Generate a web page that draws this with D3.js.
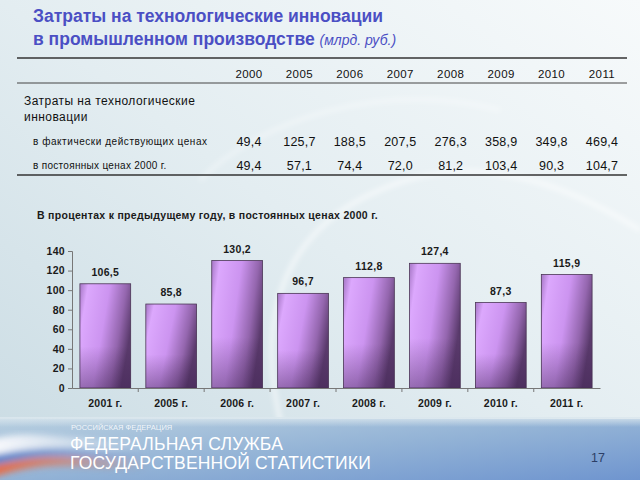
<!DOCTYPE html>
<html><head><meta charset="utf-8">
<script src="https://cdn.jsdelivr.net/npm/d3@7"></script>
<style>html,body{margin:0;padding:0;overflow:hidden;background:#fff}</style>
</head><body>
<script>
const years = ["2000","2005","2006","2007","2008","2009","2010","2011"];
const rowActual = [49.4,125.7,188.5,207.5,276.3,358.9,349.8,469.4];
const rowConst = [49.4,57.1,74.4,72.0,81.2,103.4,90.3,104.7];
const barCats = ["2001 г.","2005 г.","2006 г.","2007 г.","2008 г.","2009 г.","2010 г.","2011 г."];
const barVals = [106.5,85.8,130.2,96.7,112.8,127.4,87.3,115.9];
const yTicks = [0,20,40,60,80,100,120,140];

const W=640,H=480;
const fmt = v => d3.format(".1f")(v).replace(".",",");
const svg = d3.select("body").append("svg").attr("width",W).attr("height",H);
const defs = svg.append("defs");
const tf = "Liberation Sans, Arial, sans-serif";

// background
const bg = defs.append("linearGradient").attr("id","bg").attr("x1",0).attr("y1",1).attr("x2",1).attr("y2",0);
bg.append("stop").attr("offset",0).attr("stop-color","#c9dbe3");
bg.append("stop").attr("offset",0.5).attr("stop-color","#e3edf1");
bg.append("stop").attr("offset",1).attr("stop-color","#f7fafb");
svg.append("rect").attr("width",W).attr("height",H).attr("fill","url(#bg)");
const blur = defs.append("filter").attr("id","blur").attr("x","-20%").attr("y","-20%").attr("width","140%").attr("height","140%");
blur.append("feGaussianBlur").attr("stdDeviation",2.5);
svg.append("path").attr("d","M300,480 C250,360 260,240 380,190 C470,150 560,180 640,230")
  .attr("fill","none").attr("stroke","#ffffff").attr("stroke-opacity",0.5).attr("stroke-width",5).attr("filter","url(#blur)");
svg.append("path").attr("d","M200,180 C260,120 380,80 500,110")
  .attr("fill","none").attr("stroke","#ffffff").attr("stroke-opacity",0.35).attr("stroke-width",4).attr("filter","url(#blur)");

// title
const title = svg.append("text").attr("x",33).attr("y",22).attr("font-family",tf)
  .attr("font-weight","bold").attr("font-size",17.5).attr("fill","#4b4fc4");
title.append("tspan").text("Затраты на технологические инновации");
const t2 = svg.append("text").attr("x",33).attr("y",45).attr("font-family",tf)
  .attr("font-weight","bold").attr("font-size",17.5).attr("fill","#4b4fc4");
t2.append("tspan").text("в промышленном производстве ");
t2.append("tspan").attr("font-weight","normal").attr("font-style","italic").attr("font-size",14).text("(млрд. руб.)");

// table
const colX = d3.scalePoint().domain(years).range([249,602]);
svg.append("line").attr("x1",17).attr("x2",627).attr("y1",58).attr("y2",58).attr("stroke","#333").attr("stroke-width",1.3);
svg.append("line").attr("x1",17).attr("x2",627).attr("y1",83).attr("y2",83).attr("stroke","#444").attr("stroke-width",1);
svg.append("line").attr("x1",17).attr("x2",627).attr("y1",175).attr("y2",175).attr("stroke","#333").attr("stroke-width",1.3);
svg.selectAll(".yr").data(years).enter().append("text").attr("x",d=>colX(d)).attr("y",77.5)
  .attr("text-anchor","middle").attr("font-family",tf).attr("font-size",11.5).attr("letter-spacing",0.4).attr("fill","#111").text(d=>d);
svg.append("text").attr("x",24).attr("y",105).attr("font-family",tf).attr("font-size",12).attr("letter-spacing",0.45).attr("fill","#111").text("Затраты на технологические");
svg.append("text").attr("x",24).attr("y",121).attr("font-family",tf).attr("font-size",12).attr("letter-spacing",0.45).attr("fill","#111").text("инновации");
svg.append("text").attr("x",33).attr("y",145).attr("font-family",tf).attr("font-size",10).attr("letter-spacing",0.55).attr("fill","#111").text("в фактически действующих ценах");
svg.append("text").attr("x",33).attr("y",169).attr("font-family",tf).attr("font-size",10).attr("letter-spacing",0.3).attr("fill","#111").text("в постоянных ценах 2000 г.");
svg.selectAll(".r1").data(rowActual).enter().append("text").attr("x",(d,i)=>colX(years[i])).attr("y",146)
  .attr("text-anchor","middle").attr("font-family",tf).attr("font-size",12.5).attr("letter-spacing",0.2).attr("fill","#111").text(d=>fmt(d));
svg.selectAll(".r2").data(rowConst).enter().append("text").attr("x",(d,i)=>colX(years[i])).attr("y",170)
  .attr("text-anchor","middle").attr("font-family",tf).attr("font-size",12.5).attr("letter-spacing",0.2).attr("fill","#111").text(d=>fmt(d));

// chart subtitle
svg.append("text").attr("x",37).attr("y",219).attr("font-family",tf).attr("font-weight","bold")
  .attr("font-size",10.5).attr("letter-spacing",0.3).attr("fill","#1a1a1a").text("В процентах к предыдущему году, в постоянных ценах 2000 г.");

// bar chart
const x = d3.scaleBand().domain(barCats).range([72,600]).paddingInner(0.23).paddingOuter(0.12);
const y = d3.scaleLinear().domain([0,140]).range([388,251]);
const g = defs.append("linearGradient").attr("id","bar").attr("x1",0).attr("y1",0.1).attr("x2",1).attr("y2",0.45);
g.append("stop").attr("offset",0).attr("stop-color","#b080d0");
g.append("stop").attr("offset",0.12).attr("stop-color","#dca8fd");
g.append("stop").attr("offset",0.5).attr("stop-color","#cc94f0");
g.append("stop").attr("offset",0.8).attr("stop-color","#9466ae");
g.append("stop").attr("offset",1).attr("stop-color","#5a3a6c");
const g2 = defs.append("linearGradient").attr("id","barb").attr("x1",0).attr("y1",0).attr("x2",0).attr("y2",1);
g2.append("stop").attr("offset",0.6).attr("stop-color","#3a1f4c").attr("stop-opacity",0);
g2.append("stop").attr("offset",1).attr("stop-color","#3a1f4c").attr("stop-opacity",0.4);

svg.selectAll(".bar").data(barVals).enter().append("rect")
  .attr("x",(d,i)=>x(barCats[i])).attr("y",d=>y(d)).attr("width",x.bandwidth()).attr("height",d=>y(0)-y(d))
  .attr("fill","url(#bar)").attr("stroke","#4a3555").attr("stroke-width",0.8);
svg.selectAll(".barb").data(barVals).enter().append("rect")
  .attr("x",(d,i)=>x(barCats[i])).attr("y",d=>y(d)).attr("width",x.bandwidth()).attr("height",d=>y(0)-y(d))
  .attr("fill","url(#barb)");
svg.selectAll(".lbl").data(barVals).enter().append("text")
  .attr("x",(d,i)=>x(barCats[i])+x.bandwidth()/2).attr("y",d=>y(d)-8)
  .attr("text-anchor","middle").attr("font-family",tf).attr("font-weight","bold")
  .attr("font-size",10.5).attr("letter-spacing",0.3).attr("fill","#1a1a1a").text(d=>fmt(d));

const yAxis = svg.append("g").attr("transform","translate(72,0)")
  .call(d3.axisLeft(y).tickValues(yTicks).tickSize(4).tickPadding(3));
yAxis.select(".domain").attr("stroke","#777");
yAxis.selectAll(".tick line").attr("stroke","#777");
yAxis.selectAll("text").attr("font-family",tf).attr("font-weight","bold").attr("font-size",10.5).attr("letter-spacing",0.3).attr("fill","#1a1a1a");

const xAxis = svg.append("g").attr("transform","translate(0,388)")
  .call(d3.axisBottom(x).tickSize(0).tickPadding(12).tickSizeOuter(0));
xAxis.select(".domain").attr("stroke","#777");
xAxis.selectAll("text").attr("font-family",tf).attr("font-weight","bold").attr("font-size",10.5).attr("letter-spacing",0.2).attr("fill","#1a1a1a");
svg.selectAll(".xt").data(barCats.slice(1)).enter().append("line")
  .attr("x1",d=>x(d)-x.step()*x.paddingInner()/2).attr("x2",d=>x(d)-x.step()*x.paddingInner()/2)
  .attr("y1",388).attr("y2",392).attr("stroke","#777");

// footer
const fg = defs.append("linearGradient").attr("id","foot").attr("x1",0).attr("y1",0).attr("x2",1).attr("y2",1);
fg.append("stop").attr("offset",0).attr("stop-color","#b8cfe0");
fg.append("stop").attr("offset",0.5).attr("stop-color","#93b3d6");
fg.append("stop").attr("offset",1).attr("stop-color","#6f95cf");
svg.append("rect").attr("x",0).attr("y",419).attr("width",W).attr("height",61).attr("fill","url(#foot)");
const fadeTop = defs.append("linearGradient").attr("id","fadeTop").attr("x1",0).attr("y1",0).attr("x2",0).attr("y2",1);
fadeTop.append("stop").attr("offset",0).attr("stop-color","#dbe7ee").attr("stop-opacity",0.9);
fadeTop.append("stop").attr("offset",1).attr("stop-color","#dbe7ee").attr("stop-opacity",0);
svg.append("rect").attr("x",0).attr("y",417).attr("width",W).attr("height",10).attr("fill","url(#fadeTop)");
const fb = defs.append("filter").attr("id","fb").attr("x","-30%").attr("y","-50%").attr("width","160%").attr("height","200%");
fb.append("feGaussianBlur").attr("stdDeviation",3);
const flagMask = defs.append("linearGradient").attr("id","flagFade").attr("x1",0).attr("y1",0).attr("x2",1).attr("y2",0);
flagMask.append("stop").attr("offset",0).attr("stop-color","#fff").attr("stop-opacity",1);
flagMask.append("stop").attr("offset",1).attr("stop-color","#fff").attr("stop-opacity",0);
const mask = defs.append("mask").attr("id","fm");
mask.append("rect").attr("x",0).attr("y",410).attr("width",150).attr("height",70).attr("fill","url(#flagFade)");
const flag = svg.append("g").attr("mask","url(#fm)").attr("filter","url(#fb)");
flag.append("path").attr("d","M-10,440 C20,430 50,436 80,438 C100,440 120,442 150,440 L150,450 C110,452 90,448 60,448 C30,448 10,452 -10,456 Z").attr("fill","#f4f6fa");
flag.append("path").attr("d","M-10,456 C10,452 30,448 60,448 C90,448 110,452 150,450 L150,458 C110,460 90,456 60,456 C30,456 10,462 -10,466 Z").attr("fill","#5d86cc");
flag.append("path").attr("d","M-10,466 C10,462 30,456 60,456 C90,456 110,460 150,458 L150,468 C110,470 90,466 60,466 C30,466 10,472 -10,478 Z").attr("fill","#e2704e");
svg.append("text").attr("x",71).attr("y",430).attr("font-family",tf).attr("font-size",7.5)
  .attr("fill","#ffffff").attr("fill-opacity",0.85).text("РОССИЙСКАЯ ФЕДЕРАЦИЯ");
svg.append("text").attr("x",70).attr("y",450).attr("font-family",tf).attr("font-size",17.5)
  .attr("fill","#ffffff").attr("letter-spacing",0.2).text("ФЕДЕРАЛЬНАЯ СЛУЖБА");
svg.append("text").attr("x",70).attr("y",469).attr("font-family",tf).attr("font-size",17.5)
  .attr("fill","#ffffff").attr("letter-spacing",0.2).text("ГОСУДАРСТВЕННОЙ СТАТИСТИКИ");
svg.append("text").attr("x",591).attr("y",462).attr("font-family",tf).attr("font-size",12.5)
  .attr("fill","#2c3e66").text("17");
</script>
</body></html>
